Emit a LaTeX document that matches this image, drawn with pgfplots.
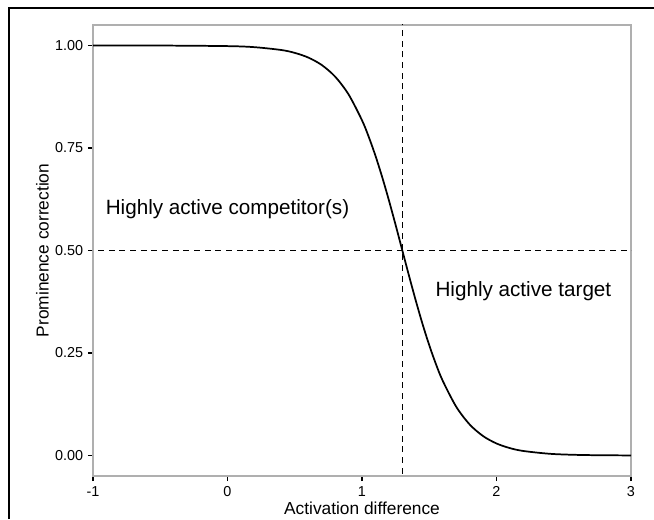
\documentclass[border=0pt]{standalone}
\usepackage{pgfplots}
\pgfplotsset{compat=1.18}
\usepackage{fontspec}
\setmainfont{Liberation Sans}

\definecolor{boxgray}{RGB}{175,175,175}

\begin{document}
\begin{tikzpicture}
% picture is 654 x 519 px, 1px = 0.75pt
\useasboundingbox (0,0) rectangle (490.5pt,389.25pt);
\draw[line width=1.1pt] (6.75pt,0) -- (6.75pt,383.25pt) -- (490.5pt,383.25pt);
\begin{axis}[
	at={(69.75pt,32.25pt)},
	anchor=south west,
	scale only axis,
	width=403.5pt,
	height=338.25pt,
	xmin=-1, xmax=3,
	ymin=-0.05, ymax=1.05,
	xtick={-1,0,1,2,3},
	xticklabels={-1,0,1,2,3},
	ytick={0,0.25,0.5,0.75,1},
	yticklabels={0.00,0.25,0.50,0.75,1.00},
	axis line style={boxgray, line width=0.8pt},
	tick style={black, line width=0.9pt},
	tick align=outside,
	major tick length=3.8pt,
	xtick pos=bottom,
	ytick pos=left,
	ticklabel style={font=\fontsize{10.8}{12}\selectfont},
	xticklabel style={yshift=-0.5pt},
	/pgf/number format/assume math mode=true,
	xlabel={Activation difference},
	ylabel={Prominence correction},
	label style={font=\fontsize{13}{15}\selectfont},
	xlabel style={at={(axis description cs:0.5,0)}, anchor=center, yshift=-24.5pt},
	ylabel style={yshift=-2pt},
	clip=true,
]
\addplot[black, line width=1.2pt, dash pattern=on 4.5pt off 3.5pt] coordinates {(1.3,-0.2) (1.3,1.2)};
\addplot[black, line width=1.2pt, dash pattern=on 4.5pt off 3.5pt] coordinates {(-1.2,0.5) (3.2,0.5)};
\addplot[black, line width=1.3pt, smooth] coordinates {
(-1.0,0.99999) (-0.5,0.99988) (0.0,0.99850) (0.2,0.99593) (0.4,0.98901)
(0.5,0.98201) (0.6,0.97069) (0.7,0.95257) (0.8,0.92414) (0.9,0.88080)
(1.0,0.81757) (1.05,0.77730) (1.1,0.73106) (1.15,0.67918) (1.2,0.62246)
(1.25,0.56218) (1.3,0.50000) (1.35,0.43782) (1.4,0.37754) (1.45,0.32082)
(1.5,0.26894) (1.55,0.22270) (1.6,0.18243) (1.7,0.11920) (1.8,0.07586)
(1.9,0.04743) (2.0,0.02931) (2.1,0.01799) (2.2,0.01099) (2.4,0.00407)
(2.6,0.00150) (2.8,0.00055) (3.0,0.00020)};
\node[font=\fontsize{15.5}{18}\selectfont] at (axis cs:0,0.6) {Highly active competitor(s)};
\node[font=\fontsize{15.5}{18}\selectfont] at (axis cs:2.2,0.4) {Highly active target};
\end{axis}
\end{tikzpicture}
\end{document}
